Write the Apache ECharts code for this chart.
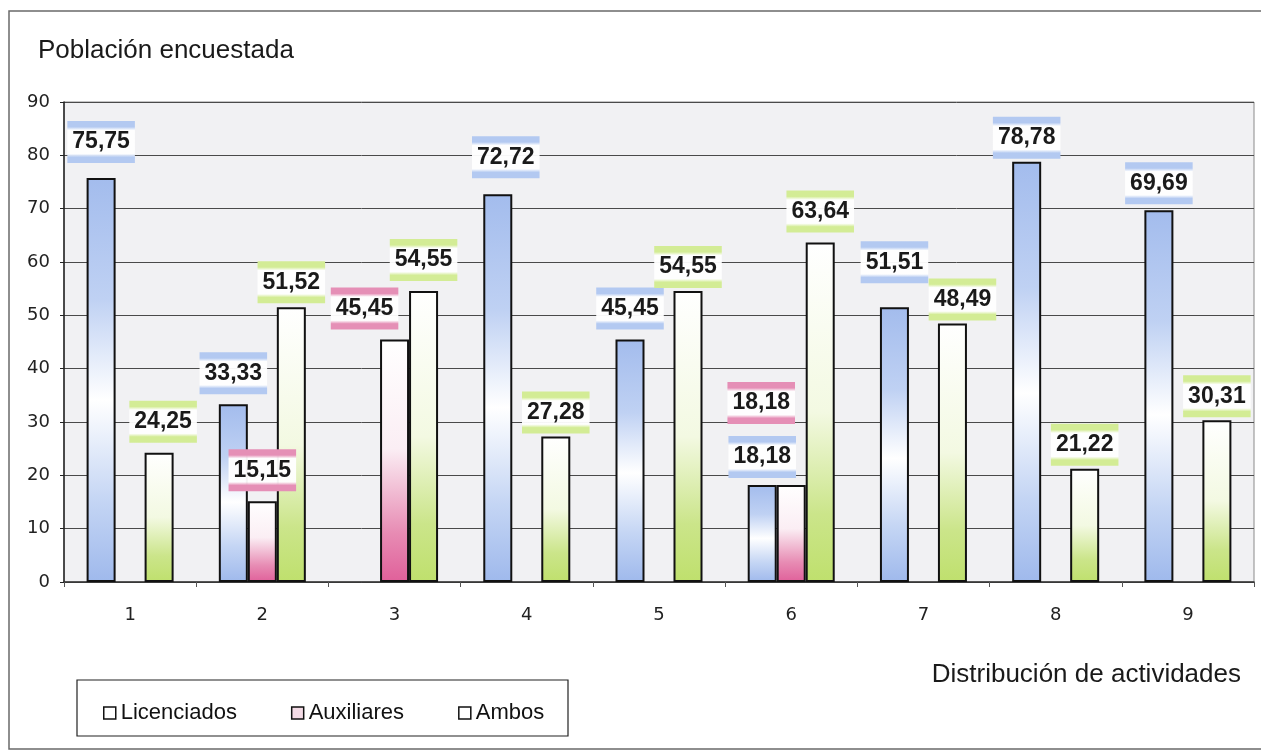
<!DOCTYPE html>
<html>
<head>
<meta charset="utf-8">
<script src="https://cdn.jsdelivr.net/npm/echarts@6/dist/echarts.min.js"></script>
<style>
html,body{margin:0;padding:0;background:#fff;}
#chart{width:1261px;height:753px;}
</style>
</head>
<body>
<div id="chart"></div>
<script>
// ---- data ----
const categories = ['1', '2', '3', '4', '5', '6', '7', '8', '9'];
const licenciados = [75.75, 33.33, null, 72.72, 45.45, 18.18, 51.51, 78.78, 69.69];
const auxiliares = [null, 15.15, 45.45, null, null, 18.18, null, null, null];
const ambos = [24.25, 51.52, 54.55, 27.28, 54.55, 63.64, 48.49, 21.22, 30.31];
const seriesNames = ['Licenciados', 'Auxiliares', 'Ambos'];
const yMin = 0, yMax = 90, yStep = 10;
const titleText = 'Población encuestada';
const xAxisTitle = 'Distribución de actividades';

// ---- styling ----
const G = echarts.graphic.LinearGradient;
const barFill = [
  new G(0, 0, 0, 1, [
    {offset: 0, color: '#a3bced'}, {offset: 0.3, color: '#bfd1f3'},
    {offset: 0.55, color: '#ffffff'}, {offset: 0.8, color: '#c4d5f4'},
    {offset: 1, color: '#9fb9ec'}]),
  new G(0, 0, 0, 1, [
    {offset: 0, color: '#ffffff'}, {offset: 0.45, color: '#fbeef4'},
    {offset: 0.8, color: '#e78bb3'}, {offset: 1, color: '#e0609a'}]),
  new G(0, 0, 0, 1, [
    {offset: 0, color: '#ffffff'}, {offset: 0.5, color: '#f3f9e2'},
    {offset: 0.8, color: '#cbe58a'}, {offset: 1, color: '#bfe06d'}])
];
const bandColors = ['#b3c9f1', '#e58fb6', '#d3ec95'];
function labelBg(c) {
  return new G(0, 0, 0, 1, [
    {offset: 0, color: c}, {offset: 0.14, color: c},
    {offset: 0.22, color: 'rgba(255,255,255,0.95)'}, {offset: 0.78, color: 'rgba(255,255,255,0.95)'},
    {offset: 0.86, color: c}, {offset: 1, color: c}]);
}
const legendIcon = ['#ffffff', '#f4dbe6', '#ffffff'];
// label nudges (style only): key = seriesIndex-dataIndex, [dx, dy]
const labelShift = {
  '0-0': [0, -5],
  '0-3': [8, -6],
  '0-5': [0, 3],
  '0-6': [0, -14],
  '0-7': [0, 7],
  '0-8': [0, 4],
  '1-2': [-30, 0],
  '1-5': [-30, -51],
  '2-0': [4, 0],
  '2-1': [0, 6],
  '2-3': [0, 7],
  '2-4': [0, 7],
  '2-6': [10, 7],
  '2-7': [0, 7],
  '2-8': [0, 7]
};

function makeData(arr, si) {
  return arr.map((v, i) => {
    const key = si + '-' + i;
    if (labelShift[key]) {
      return {value: v, label: {offset: labelShift[key]}};
    }
    return v;
  });
}

const chart = echarts.init(document.getElementById('chart'), null, {renderer: 'canvas'});
const allValues = [licenciados, auxiliares, ambos];

const option = {
  backgroundColor: '#ffffff',
  animation: false,
  title: {
    text: titleText,
    left: 33, top: 33,
    textStyle: {fontFamily: 'Liberation Sans', fontSize: 26, fontWeight: 'normal', color: '#1a1a1a'}
  },
  grid: {
    left: 64, right: 7, top: 102, bottom: 171,
    show: true, backgroundColor: '#f1f1f3', borderColor: '#8a8a8a', borderWidth: 1
  },
  legend: {
    left: 98, top: 697,
    itemWidth: 12, itemHeight: 12, itemGap: 54,
    icon: 'rect',
    textStyle: {fontFamily: 'Liberation Sans', fontSize: 22, color: '#111'},
    data: seriesNames.map((n, i) => ({
      name: n,
      itemStyle: {color: legendIcon[i], borderColor: '#111', borderWidth: 1.5}
    }))
  },
  xAxis: {
    type: 'category',
    data: categories,
    axisLine: {lineStyle: {color: '#333', width: 1.5}},
    axisTick: {show: true, length: 5, lineStyle: {color: '#555'}},
    axisLabel: {margin: 24, fontFamily: 'DejaVu Sans', fontSize: 18, color: '#222'},
    splitLine: {show: false}
  },
  yAxis: {
    type: 'value',
    min: yMin, max: yMax, interval: yStep,
    axisLine: {show: true, lineStyle: {color: '#222', width: 1.5}},
    axisTick: {show: true, length: 4, lineStyle: {color: '#222'}},
    axisLabel: {margin: 14, fontFamily: 'DejaVu Sans', fontSize: 18, color: '#222'},
    splitLine: {show: true, lineStyle: {color: '#4a4a4a', width: 1}}
  },
  graphic: [
    {type: 'polyline', shape: {points: [[1261, 11], [9, 11], [9, 749], [1261, 749]]},
     style: {stroke: '#6a6a6a', lineWidth: 1.5, fill: null}, silent: true},
    {type: 'rect', shape: {x: 77, y: 680, width: 491, height: 56},
     style: {stroke: '#222', lineWidth: 1.2, fill: '#ffffff'}, z: -1, silent: true},
    {type: 'text', right: 1261 - 1241, top: 662,
     style: {text: xAxisTitle, font: '26px "Liberation Sans"', fill: '#1a1a1a'}}
  ],
  series: allValues.map((arr, si) => ({
    name: seriesNames[si],
    type: 'bar',
    barWidth: 29,
    barGap: '0%',
    data: makeData(arr, si),
    itemStyle: {color: barFill[si], borderColor: '#111', borderWidth: 2},
    label: {
      show: true,
      position: 'top',
      distance: 10,
      formatter: p => p.value == null ? '' : Number(p.value).toFixed(2).replace('.', ','),
      fontFamily: 'Liberation Sans',
      fontWeight: 'bold',
      fontSize: 23,
      color: '#1a1a1a',
      lineHeight: 24,
      padding: [9, 5, 9, 5],
      backgroundColor: labelBg(bandColors[si])
    }
  }))
};
chart.setOption(option);
</script>
</body>
</html>
